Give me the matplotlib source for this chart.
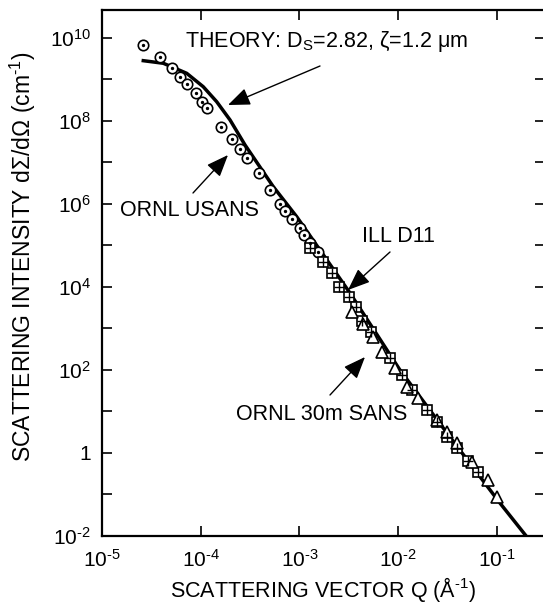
import matplotlib
matplotlib.use('Agg')
import matplotlib.pyplot as plt
from matplotlib.ticker import FixedLocator, FixedFormatter, NullLocator

plt.rcParams['font.family'] = ['Liberation Sans', 'DejaVu Sans']
plt.rcParams['mathtext.fontset'] = 'custom'
plt.rcParams['mathtext.rm'] = 'Liberation Sans'
plt.rcParams['mathtext.it'] = 'Liberation Sans:italic'

# theory curve
q_theory = [2.62e-5, 4.18e-5, 7.21e-5, 1.06e-4, 1.45e-4, 1.98e-4, 2.81e-4,
            5.43e-4, 9.37e-4, 3.24e-3, 1.04e-2, 3.34e-2, 1.07e-1, 2.01e-1]
i_theory = [2.84e9, 2.46e9, 1.41e9, 6.7e8, 2.92e8, 1.06e8, 2.64e7,
            2.61e6, 4.94e5, 7.2e3, 100, 2.43, 0.0624, 0.00946]

# ORNL USANS
q_usans = [2.62e-5, 3.86e-5, 5.08e-5, 6.17e-5, 7.31e-5, 8.89e-5, 1.02e-4, 1.16e-4,
           1.60e-4, 2.06e-4, 2.49e-4, 2.92e-4, 3.92e-4, 5.03e-4, 6.35e-4, 7.13e-4,
           8.34e-4, 1.01e-3, 1.11e-3, 1.28e-3, 1.55e-3]
i_usans = [6.8e9, 3.43e9, 1.86e9, 1.17e9, 7.8e8, 4.81e8, 2.92e8, 2.02e8,
           7.3e7, 3.62e7, 2.08e7, 1.26e7, 5.5e6, 2.17e6, 1.0e6, 6.9e5,
           4.28e5, 2.6e5, 1.79e5, 1.17e5, 7.1e4]

# ILL D11
q_ill = [1.28e-3, 1.74e-3, 2.12e-3, 2.53e-3, 3.19e-3, 3.7e-3, 4.33e-3, 5.3e-3,
         8.24e-3, 1.08e-2, 1.37e-2, 1.94e-2, 2.45e-2, 3.1e-2, 3.97e-2, 5.11e-2, 6.46e-2]
i_ill = [8.6e4, 4.07e4, 2.14e4, 1.02e4, 5.8e3, 3.3e3, 1.54e3, 838,
         191, 75.8, 33, 10.9, 5.7, 2.47, 1.30, 0.653, 0.354]

# ORNL 30m SANS
q_sans = [3.37e-3, 4.4e-3, 5.58e-3, 6.79e-3, 9.27e-3, 1.22e-2, 1.60e-2, 2.45e-2,
          3.1e-2, 3.91e-2, 5.55e-2, 8.17e-2, 9.93e-2]
i_sans = [2.54e3, 1.25e3, 635, 276, 110, 39.6, 20.8, 6.2,
          3.26, 1.71, 0.617, 0.223, 0.0857]

x_ticks = [1e-5, 1e-4, 1e-3, 1e-2, 1e-1]
x_tick_labels = ['10$^{\u20105}$', '10$^{\u20104}$', '10$^{\u20103}$',
                 '10$^{\u20102}$', '10$^{\u20101}$']
y_ticks = [1e-2, 1e-1, 1, 1e1, 1e2, 1e3, 1e4, 1e5, 1e6, 1e7, 1e8, 1e9, 1e10]
y_tick_labels = ['10$^{\u20102}$', '', '1', '', '10$^{2}$', '', '10$^{4}$', '',
                 '10$^{6}$', '', '10$^{8}$', '', '10$^{10}$']

fig = plt.figure(figsize=(5.43, 6.09), dpi=100)
ax = fig.add_axes([0.1878, 0.1199, 0.8158, 0.8637])
ax.set_xscale('log')
ax.set_yscale('log')

ax.plot(q_theory, i_theory, color='black', lw=2.5, zorder=2)

ax.plot(q_usans, i_usans, 'o', ms=7.5, mfc='white', mec='black', mew=1.2, zorder=3)
ax.plot(q_usans, i_usans, '.', ms=2.8, color='black', zorder=4)
ax.plot(q_ill, i_ill, 's', ms=7, mfc='white', mec='black', mew=1.2, zorder=3)
ax.plot(q_ill, i_ill, '+', ms=7, color='black', mew=1.0, zorder=4)
ax.plot(q_sans, i_sans, '^', ms=8, mfc='white', mec='black', mew=1.2, zorder=3)

ax.set_xlim(1e-5, 0.306)
ax.set_ylim(1e-2, 4.73e10)

ax.xaxis.set_major_locator(FixedLocator(x_ticks))
ax.xaxis.set_major_formatter(FixedFormatter(x_tick_labels))
ax.xaxis.set_minor_locator(NullLocator())
ax.yaxis.set_major_locator(FixedLocator(y_ticks))
ax.yaxis.set_major_formatter(FixedFormatter(y_tick_labels))
ax.yaxis.set_minor_locator(NullLocator())
ax.tick_params(direction='in', length=7, width=1.2, top=True, right=True,
               labelsize=15)
ax.tick_params(axis='x', pad=9)
ax.tick_params(axis='y', pad=8)
for s in ax.spines.values():
    s.set_linewidth(1.6)

ax.set_xlabel('SCATTERING VECTOR Q (Å$^{\u20101}$)', fontsize=15.5, labelpad=3)
ax.set_ylabel('SCATTERING INTENSITY d\u03a3/d\u03a9 (cm$^{\u20101}$)', fontsize=16.5)
ax.yaxis.set_label_coords(-0.145, 0.53)

arrow = dict(arrowstyle='-|>,head_length=0.45,head_width=0.18', color='black',
             lw=1.0, mutation_scale=30, shrinkA=0, shrinkB=0)
fs = 15.5
ax.annotate('THEORY: D$_\\mathregular{S}$=2.82, \u03b6=1.2 \u03bcm',
            xy=(185, 609 - 42), xycoords='figure pixels',
            fontsize=fs, va='center', ha='left')
ax.annotate('', xy=(228, 609 - 105), xycoords='figure pixels',
            xytext=(320, 609 - 66), textcoords='figure pixels', arrowprops=arrow)
ax.annotate('ORNL USANS', xy=(120, 609 - 211), xycoords='figure pixels',
            fontsize=fs, va='center', ha='left')
ax.annotate('', xy=(228, 609 - 155), xycoords='figure pixels',
            xytext=(193, 609 - 193), textcoords='figure pixels', arrowprops=arrow)
ax.annotate('ILL D11', xy=(362, 609 - 237), xycoords='figure pixels',
            fontsize=fs, va='center', ha='left')
ax.annotate('', xy=(348, 609 - 290), xycoords='figure pixels',
            xytext=(390, 609 - 252), textcoords='figure pixels', arrowprops=arrow)
ax.annotate('ORNL 30m SANS', xy=(407, 609 - 415), xycoords='figure pixels',
            fontsize=fs, va='center', ha='right')
ax.annotate('', xy=(365, 609 - 357), xycoords='figure pixels',
            xytext=(330, 609 - 395), textcoords='figure pixels', arrowprops=arrow)

fig.savefig('out.png', dpi=100)
